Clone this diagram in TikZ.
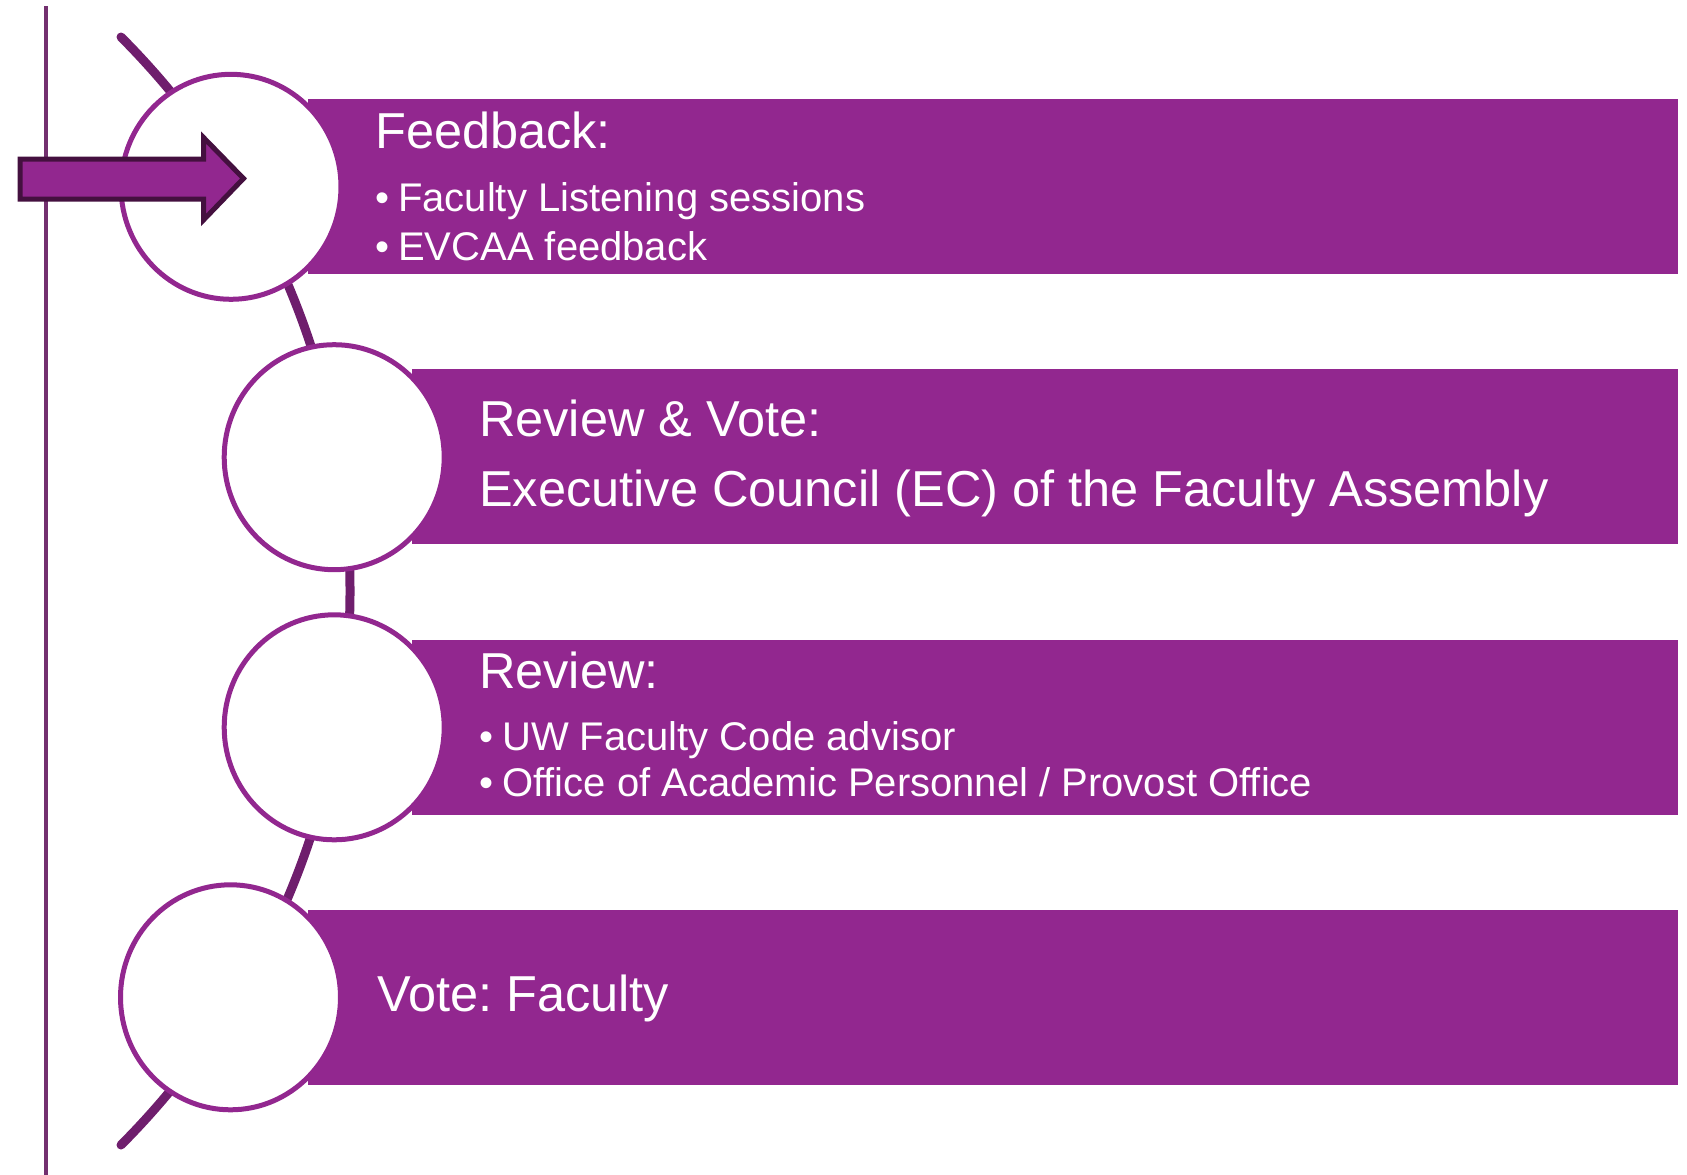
\documentclass[tikz,border=0pt]{standalone}
\usepackage{fontspec}
\setmainfont{Liberation Sans}
\definecolor{purp}{HTML}{92278F}
\definecolor{arcc}{HTML}{6F1E6D}
\definecolor{vlinec}{HTML}{73306F}
\definecolor{arrowedge}{HTML}{44103F}
\begin{document}
\frenchspacing
\begin{tikzpicture}[x=1pt,y=-1pt,
  bar/.style={fill=purp, draw=none, inner sep=0pt, anchor=north west, minimum height=174.5pt},
  circ/.style={draw=purp, line width=5pt, fill=white},
  ttl/.style={anchor=base west, inner sep=0pt, text=white, font=\fontsize{50.5}{60}\selectfont},
  bul/.style={anchor=base west, inner sep=0pt, text=white, font=\fontsize{40}{48}\selectfont},
  spine/.style={draw=arcc, line width=9pt, line cap=round},
]
\useasboundingbox (0,0) rectangle (1687,1175);
% vertical line
\coordinate (vtop) at (46,6);
\coordinate (vbot) at (46,1175);
\draw[vlinec, line width=4.5pt] (vtop) -- (vbot);
% spine arc
\coordinate (spinetop) at (121,37);
\draw[spine] (spinetop) arc[start angle=-44.92, end angle=44.92, radius=784.6];
% bars
\node[bar, minimum width=1370pt] (r1) at (308,99) {};
\node[bar, minimum width=1266.5pt] (r2) at (411.5,369) {};
\node[bar, minimum width=1266.5pt] (r3) at (411.5,640) {};
\node[bar, minimum width=1370pt] (r4) at (308,910) {};
% circles
\coordinate (c1) at (231,186.8);
\coordinate (c2) at (334.2,457.2);
\coordinate (c3) at (334.2,727.3);
\coordinate (c4) at (230.5,997.3);
\foreach \c in {c1,c2,c3,c4}
  \draw[circ] (\c) ellipse[x radius=110, y radius=112.5];
% arrow
\draw[fill=purp, draw=arrowedge, line width=5pt, line join=miter]
  (20,159) -- (203.5,159) -- (203.5,137.5) -- (243.5,178.5) -- (203.5,220) -- (203.5,199) -- (20,199) -- cycle;
% texts
\node[ttl] (t1) at (375,148.3) {Feedback:};
\node[bul] (b1a) at (375,211.7) {\makebox[23pt][l]{\textbullet}Faculty Listening sessions};
\node[bul] (b1b) at (375,260) {\makebox[23pt][l]{\textbullet}EVCAA feedback};
\node[ttl] (t2) at (479,436) {Review \& Vote:};
\node[ttl] (t2b) at (479,506.7) {Executive Council (EC) of the Faculty Assembly};
\node[ttl] (t3) at (479,688.3) {Review:};
\node[bul] (b3a) at (479,750) {\makebox[23pt][l]{\textbullet}UW Faculty Code advisor};
\node[bul] (b3b) at (479,796.7) {\makebox[23pt][l]{\textbullet}Office of Academic Personnel / Provost Office};
\node[ttl] (t4) at (377,1011.7) {Vote: Faculty};
\end{tikzpicture}
\end{document}
